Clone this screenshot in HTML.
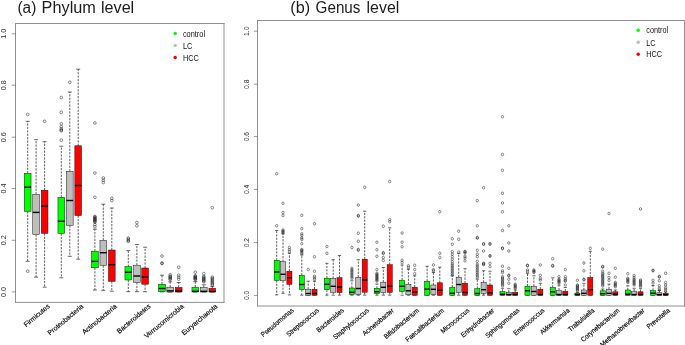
<!DOCTYPE html>
<html><head><meta charset="utf-8"><title>Boxplots</title><style>
html,body{margin:0;padding:0;background:#fff;}
body{width:685px;height:345px;overflow:hidden;font-family:"Liberation Sans",sans-serif;}
svg{display:block;font-family:"Liberation Sans",sans-serif;will-change:transform;}
.ti{font-size:15.8px;fill:#1c1c1c;}
.yl{font-size:6.8px;fill:#2a2a2a;}
.xl{fill:#000;stroke:#000;stroke-width:0.15;}
.lg{font-size:8.3px;fill:#111;}
.fr{fill:none;stroke:#909090;stroke-width:1;}
.t{stroke:#555;stroke-width:0.6;fill:none;}
.w{stroke:#2a2a2a;stroke-width:0.75;stroke-dasharray:2.2 1.2;fill:none;}
.c{stroke:#2a2a2a;stroke-width:0.7;fill:none;}
.b{stroke:#111;stroke-width:0.5;}
.m{stroke:#000;stroke-width:1.4;fill:none;}
.o{stroke:#1a1a1a;stroke-width:0.5;fill:none;}
</style></head><body>
<svg width="685" height="345" viewBox="0 0 685 345">
<rect width="685" height="345" fill="#fff"/>
<text class="ti" x="17.5" y="12.6" textLength="18.8" lengthAdjust="spacingAndGlyphs">(a)</text>
<text class="ti" x="41.6" y="12.6" textLength="54.3" lengthAdjust="spacingAndGlyphs">Phylum</text>
<text class="ti" x="101.0" y="12.6" textLength="33.2" lengthAdjust="spacingAndGlyphs">level</text>
<text class="ti" x="290.3" y="12.6" textLength="19.8" lengthAdjust="spacingAndGlyphs">(b)</text>
<text class="ti" x="315.6" y="12.6" textLength="44.8" lengthAdjust="spacingAndGlyphs">Genus</text>
<text class="ti" x="366.6" y="12.6" textLength="32.7" lengthAdjust="spacingAndGlyphs">level</text>
<path class="fr" d="M15.5 23.0V302.9M224.0 23.0V302.9M15.0 23.5H224.5M15.0 302.4H224.5"/>
<path class="t" d="M11.70 33.80H15.50"/>
<text class="yl" transform="translate(6.3,33.80) rotate(-90) scale(1.07,1)" text-anchor="middle">1.0</text>
<path class="t" d="M11.70 85.20H15.50"/>
<text class="yl" transform="translate(6.3,85.20) rotate(-90) scale(1.07,1)" text-anchor="middle">0.8</text>
<path class="t" d="M11.70 137.20H15.50"/>
<text class="yl" transform="translate(6.3,137.20) rotate(-90) scale(1.07,1)" text-anchor="middle">0.6</text>
<path class="t" d="M11.70 188.50H15.50"/>
<text class="yl" transform="translate(6.3,188.50) rotate(-90) scale(1.07,1)" text-anchor="middle">0.4</text>
<path class="t" d="M11.70 240.30H15.50"/>
<text class="yl" transform="translate(6.3,240.30) rotate(-90) scale(1.07,1)" text-anchor="middle">0.2</text>
<path class="t" d="M11.70 291.90H15.50"/>
<text class="yl" transform="translate(6.3,291.90) rotate(-90) scale(1.07,1)" text-anchor="middle">0.0</text>
<path class="w" d="M27.70 173.30V121.30"/>
<path class="c" d="M25.70 121.30H29.70"/>
<path class="w" d="M27.70 211.30V261.30"/>
<path class="c" d="M25.70 261.30H29.70"/>
<rect class="b" x="24.35" y="173.30" width="6.70" height="38.00" fill="#00ff00"/>
<path class="m" d="M24.35 187.20H31.05"/>
<ellipse class="o" cx="27.70" cy="114.50" rx="1.35" ry="1.35"/>
<ellipse class="o" cx="27.70" cy="271.20" rx="1.35" ry="1.35"/>
<path class="w" d="M36.10 194.30V139.70"/>
<path class="c" d="M34.10 139.70H38.10"/>
<path class="w" d="M36.10 234.50V277.20"/>
<path class="c" d="M34.10 277.20H38.10"/>
<rect class="b" x="32.75" y="194.30" width="6.70" height="40.20" fill="#bebebe"/>
<path class="m" d="M32.75 212.40H39.45"/>
<path class="w" d="M44.60 190.20V141.70"/>
<path class="c" d="M42.60 141.70H46.60"/>
<path class="w" d="M44.60 233.30V287.20"/>
<path class="c" d="M42.60 287.20H46.60"/>
<rect class="b" x="41.25" y="190.20" width="6.70" height="43.10" fill="#ff0000"/>
<path class="m" d="M41.25 206.30H47.95"/>
<ellipse class="o" cx="44.60" cy="121.30" rx="1.35" ry="1.35"/>
<path class="w" d="M61.30 197.30V146.20"/>
<path class="c" d="M59.30 146.20H63.30"/>
<path class="w" d="M61.30 233.50V277.80"/>
<path class="c" d="M59.30 277.80H63.30"/>
<rect class="b" x="57.95" y="197.30" width="6.70" height="36.20" fill="#00ff00"/>
<path class="m" d="M57.95 221.30H64.65"/>
<ellipse class="o" cx="61.30" cy="97.50" rx="1.35" ry="1.35"/>
<ellipse class="o" cx="61.30" cy="112.30" rx="1.35" ry="1.35"/>
<ellipse class="o" cx="61.30" cy="123.70" rx="1.35" ry="1.35"/>
<ellipse class="o" cx="61.30" cy="126.70" rx="1.35" ry="1.35"/>
<ellipse class="o" cx="61.30" cy="128.80" rx="1.35" ry="1.35"/>
<ellipse class="o" cx="61.30" cy="130.00" rx="1.35" ry="1.35"/>
<ellipse class="o" cx="61.30" cy="130.80" rx="1.35" ry="1.35"/>
<ellipse class="o" cx="61.30" cy="140.20" rx="1.35" ry="1.35"/>
<path class="w" d="M69.80 171.30V92.00"/>
<path class="c" d="M67.80 92.00H71.80"/>
<path class="w" d="M69.80 225.30V256.30"/>
<path class="c" d="M67.80 256.30H71.80"/>
<rect class="b" x="66.45" y="171.30" width="6.70" height="54.00" fill="#bebebe"/>
<path class="m" d="M66.45 200.50H73.15"/>
<ellipse class="o" cx="69.80" cy="82.30" rx="1.35" ry="1.35"/>
<path class="w" d="M78.20 145.80V69.20"/>
<path class="c" d="M76.20 69.20H80.20"/>
<path class="w" d="M78.20 215.60V259.20"/>
<path class="c" d="M76.20 259.20H80.20"/>
<rect class="b" x="74.85" y="145.80" width="6.70" height="69.80" fill="#ff0000"/>
<path class="m" d="M74.85 185.50H81.55"/>
<path class="w" d="M94.90 251.20V229.20"/>
<path class="c" d="M92.90 229.20H96.90"/>
<path class="w" d="M94.90 267.80V290.00"/>
<path class="c" d="M92.90 290.00H96.90"/>
<rect class="b" x="91.55" y="251.20" width="6.70" height="16.60" fill="#00ff00"/>
<path class="m" d="M91.55 261.40H98.25"/>
<ellipse class="o" cx="94.90" cy="123.00" rx="1.35" ry="1.35"/>
<ellipse class="o" cx="94.90" cy="173.00" rx="1.35" ry="1.35"/>
<ellipse class="o" cx="94.90" cy="197.30" rx="1.35" ry="1.35"/>
<ellipse class="o" cx="94.90" cy="216.40" rx="1.35" ry="1.35"/>
<ellipse class="o" cx="94.90" cy="217.12" rx="1.35" ry="1.35"/>
<ellipse class="o" cx="94.90" cy="217.85" rx="1.35" ry="1.35"/>
<ellipse class="o" cx="94.90" cy="218.57" rx="1.35" ry="1.35"/>
<ellipse class="o" cx="94.90" cy="219.30" rx="1.35" ry="1.35"/>
<ellipse class="o" cx="94.90" cy="220.03" rx="1.35" ry="1.35"/>
<ellipse class="o" cx="94.90" cy="220.75" rx="1.35" ry="1.35"/>
<ellipse class="o" cx="94.90" cy="221.47" rx="1.35" ry="1.35"/>
<ellipse class="o" cx="94.90" cy="222.20" rx="1.35" ry="1.35"/>
<ellipse class="o" cx="94.90" cy="224.60" rx="1.35" ry="1.35"/>
<ellipse class="o" cx="94.90" cy="226.70" rx="1.35" ry="1.35"/>
<path class="w" d="M103.30 240.30V204.20"/>
<path class="c" d="M101.30 204.20H105.30"/>
<path class="w" d="M103.30 265.40V290.30"/>
<path class="c" d="M101.30 290.30H105.30"/>
<rect class="b" x="99.95" y="240.30" width="6.70" height="25.10" fill="#bebebe"/>
<path class="m" d="M99.95 252.70H106.65"/>
<ellipse class="o" cx="103.30" cy="178.00" rx="1.35" ry="1.35"/>
<ellipse class="o" cx="103.30" cy="180.30" rx="1.35" ry="1.35"/>
<ellipse class="o" cx="103.30" cy="182.50" rx="1.35" ry="1.35"/>
<path class="w" d="M111.80 250.00V208.00"/>
<path class="c" d="M109.80 208.00H113.80"/>
<path class="w" d="M111.80 281.30V291.20"/>
<path class="c" d="M109.80 291.20H113.80"/>
<rect class="b" x="108.45" y="250.00" width="6.70" height="31.30" fill="#ff0000"/>
<path class="m" d="M108.45 264.70H115.15"/>
<ellipse class="o" cx="111.80" cy="198.30" rx="1.35" ry="1.35"/>
<ellipse class="o" cx="111.80" cy="200.50" rx="1.35" ry="1.35"/>
<path class="w" d="M128.30 266.70V250.60"/>
<path class="c" d="M126.30 250.60H130.30"/>
<path class="w" d="M128.30 280.00V291.70"/>
<path class="c" d="M126.30 291.70H130.30"/>
<rect class="b" x="124.95" y="266.70" width="6.70" height="13.30" fill="#00ff00"/>
<path class="m" d="M124.95 272.30H131.65"/>
<ellipse class="o" cx="128.30" cy="238.00" rx="1.35" ry="1.35"/>
<ellipse class="o" cx="128.30" cy="239.30" rx="1.35" ry="1.35"/>
<ellipse class="o" cx="128.30" cy="240.50" rx="1.35" ry="1.35"/>
<ellipse class="o" cx="128.30" cy="241.30" rx="1.35" ry="1.35"/>
<path class="w" d="M136.90 265.20V244.50"/>
<path class="c" d="M134.90 244.50H138.90"/>
<path class="w" d="M136.90 282.50V291.70"/>
<path class="c" d="M134.90 291.70H138.90"/>
<rect class="b" x="133.55" y="265.20" width="6.70" height="17.30" fill="#bebebe"/>
<path class="m" d="M133.55 276.00H140.25"/>
<ellipse class="o" cx="136.90" cy="222.50" rx="1.35" ry="1.35"/>
<ellipse class="o" cx="136.90" cy="225.80" rx="1.35" ry="1.35"/>
<path class="w" d="M145.10 268.00V247.20"/>
<path class="c" d="M143.10 247.20H147.10"/>
<path class="w" d="M145.10 284.20V291.70"/>
<path class="c" d="M143.10 291.70H147.10"/>
<rect class="b" x="141.75" y="268.00" width="6.70" height="16.20" fill="#ff0000"/>
<path class="m" d="M141.75 277.00H148.45"/>
<path class="w" d="M162.00 284.30V275.20"/>
<path class="c" d="M160.00 275.20H164.00"/>
<path class="c" d="M160.00 291.90H164.00"/>
<rect class="b" x="158.65" y="284.30" width="6.70" height="7.40" fill="#00ff00"/>
<path class="m" d="M158.65 288.50H165.35"/>
<ellipse class="o" cx="162.00" cy="256.00" rx="1.35" ry="1.35"/>
<ellipse class="o" cx="162.00" cy="263.00" rx="1.35" ry="1.35"/>
<ellipse class="o" cx="162.00" cy="263.60" rx="1.35" ry="1.35"/>
<path class="w" d="M170.20 287.20V281.80"/>
<path class="c" d="M168.20 281.80H172.20"/>
<path class="c" d="M168.20 292.00H172.20"/>
<rect class="b" x="166.85" y="287.20" width="6.70" height="4.80" fill="#bebebe"/>
<path class="m" d="M166.85 290.90H173.55"/>
<ellipse class="o" cx="170.20" cy="274.80" rx="1.35" ry="1.35"/>
<ellipse class="o" cx="170.20" cy="276.20" rx="1.35" ry="1.35"/>
<ellipse class="o" cx="170.20" cy="277.05" rx="1.35" ry="1.35"/>
<ellipse class="o" cx="170.20" cy="277.90" rx="1.35" ry="1.35"/>
<ellipse class="o" cx="170.20" cy="278.75" rx="1.35" ry="1.35"/>
<ellipse class="o" cx="170.20" cy="279.60" rx="1.35" ry="1.35"/>
<path class="w" d="M178.70 287.50V282.50"/>
<path class="c" d="M176.70 282.50H180.70"/>
<path class="c" d="M176.70 292.00H180.70"/>
<rect class="b" x="175.35" y="287.50" width="6.70" height="4.50" fill="#ff0000"/>
<path class="m" d="M175.35 291.00H182.05"/>
<ellipse class="o" cx="178.70" cy="267.20" rx="1.35" ry="1.35"/>
<ellipse class="o" cx="178.70" cy="275.20" rx="1.35" ry="1.35"/>
<ellipse class="o" cx="178.70" cy="277.20" rx="1.35" ry="1.35"/>
<ellipse class="o" cx="178.70" cy="279.20" rx="1.35" ry="1.35"/>
<path class="w" d="M195.30 287.20V281.60"/>
<path class="c" d="M193.30 281.60H197.30"/>
<path class="c" d="M193.30 292.00H197.30"/>
<rect class="b" x="191.95" y="287.20" width="6.70" height="4.80" fill="#00ff00"/>
<path class="m" d="M191.95 291.30H198.65"/>
<ellipse class="o" cx="195.30" cy="272.20" rx="1.35" ry="1.35"/>
<ellipse class="o" cx="195.30" cy="275.80" rx="1.35" ry="1.35"/>
<ellipse class="o" cx="195.30" cy="276.43" rx="1.35" ry="1.35"/>
<ellipse class="o" cx="195.30" cy="277.07" rx="1.35" ry="1.35"/>
<ellipse class="o" cx="195.30" cy="277.70" rx="1.35" ry="1.35"/>
<ellipse class="o" cx="195.30" cy="278.33" rx="1.35" ry="1.35"/>
<ellipse class="o" cx="195.30" cy="278.97" rx="1.35" ry="1.35"/>
<ellipse class="o" cx="195.30" cy="279.60" rx="1.35" ry="1.35"/>
<path class="w" d="M203.80 287.50V284.80"/>
<path class="c" d="M201.80 284.80H205.80"/>
<path class="c" d="M201.80 292.00H205.80"/>
<rect class="b" x="200.45" y="287.50" width="6.70" height="4.50" fill="#bebebe"/>
<path class="m" d="M200.45 291.30H207.15"/>
<ellipse class="o" cx="203.80" cy="273.60" rx="1.35" ry="1.35"/>
<ellipse class="o" cx="203.80" cy="276.40" rx="1.35" ry="1.35"/>
<ellipse class="o" cx="203.80" cy="277.30" rx="1.35" ry="1.35"/>
<ellipse class="o" cx="203.80" cy="278.20" rx="1.35" ry="1.35"/>
<ellipse class="o" cx="203.80" cy="279.10" rx="1.35" ry="1.35"/>
<ellipse class="o" cx="203.80" cy="280.00" rx="1.35" ry="1.35"/>
<ellipse class="o" cx="203.80" cy="280.90" rx="1.35" ry="1.35"/>
<ellipse class="o" cx="203.80" cy="281.80" rx="1.35" ry="1.35"/>
<path class="w" d="M212.30 288.30V286.60"/>
<path class="c" d="M210.30 286.60H214.30"/>
<path class="c" d="M210.30 292.00H214.30"/>
<rect class="b" x="208.95" y="288.30" width="6.70" height="3.70" fill="#ff0000"/>
<path class="m" d="M208.95 291.50H215.65"/>
<ellipse class="o" cx="212.30" cy="207.70" rx="1.35" ry="1.35"/>
<ellipse class="o" cx="212.30" cy="277.20" rx="1.35" ry="1.35"/>
<ellipse class="o" cx="212.30" cy="278.31" rx="1.35" ry="1.35"/>
<ellipse class="o" cx="212.30" cy="279.43" rx="1.35" ry="1.35"/>
<ellipse class="o" cx="212.30" cy="280.54" rx="1.35" ry="1.35"/>
<ellipse class="o" cx="212.30" cy="281.66" rx="1.35" ry="1.35"/>
<ellipse class="o" cx="212.30" cy="282.77" rx="1.35" ry="1.35"/>
<ellipse class="o" cx="212.30" cy="283.89" rx="1.35" ry="1.35"/>
<ellipse class="o" cx="212.30" cy="285.00" rx="1.35" ry="1.35"/>
<text class="xl" font-size="7.0" transform="translate(50.30,307.10) rotate(-40) scale(0.975,1)" text-anchor="end">Firmicutes</text>
<text class="xl" font-size="7.0" transform="translate(84.00,307.10) rotate(-40) scale(0.975,1)" text-anchor="end">Proteobacteria</text>
<text class="xl" font-size="7.0" transform="translate(117.50,307.10) rotate(-40) scale(0.975,1)" text-anchor="end">Actinobacteria</text>
<text class="xl" font-size="7.0" transform="translate(151.10,307.10) rotate(-40) scale(0.975,1)" text-anchor="end">Bacteroidetes</text>
<text class="xl" font-size="7.0" transform="translate(184.40,307.10) rotate(-40) scale(0.975,1)" text-anchor="end">Verrucomicrobia</text>
<text class="xl" font-size="7.0" transform="translate(218.00,307.10) rotate(-40) scale(0.975,1)" text-anchor="end">Euryarchaeota</text>
<circle cx="175.2" cy="33.5" r="1.75" fill="#00ff00"/>
<text class="lg" transform="translate(182.9,36.6) scale(0.89,1)">control</text>
<circle cx="175.2" cy="45.5" r="1.75" fill="#bebebe"/>
<text class="lg" transform="translate(182.9,48.7) scale(0.89,1)">LC</text>
<circle cx="175.2" cy="57.6" r="1.75" fill="#ff0000"/>
<text class="lg" transform="translate(182.9,60.5) scale(0.89,1)">HCC</text>
<path class="fr" d="M257.5 20.0V306.5M684.5 20.0V306.5M257.0 20.5H685.0M257.0 306.0H685.0"/>
<path class="t" d="M253.70 31.20H257.50"/>
<text class="yl" transform="translate(248.9,31.20) rotate(-90) scale(1,0.93)" text-anchor="middle">1.0</text>
<path class="t" d="M253.70 84.20H257.50"/>
<text class="yl" transform="translate(248.9,84.20) rotate(-90) scale(1,0.93)" text-anchor="middle">0.8</text>
<path class="t" d="M253.70 136.60H257.50"/>
<text class="yl" transform="translate(248.9,136.60) rotate(-90) scale(1,0.93)" text-anchor="middle">0.6</text>
<path class="t" d="M253.70 189.40H257.50"/>
<text class="yl" transform="translate(248.9,189.40) rotate(-90) scale(1,0.93)" text-anchor="middle">0.4</text>
<path class="t" d="M253.70 242.60H257.50"/>
<text class="yl" transform="translate(248.9,242.60) rotate(-90) scale(1,0.93)" text-anchor="middle">0.2</text>
<path class="t" d="M253.70 295.40H257.50"/>
<text class="yl" transform="translate(248.9,295.40) rotate(-90) scale(1,0.93)" text-anchor="middle">0.0</text>
<path class="w" d="M276.70 260.30V230.50"/>
<path class="c" d="M275.10 230.50H278.30"/>
<path class="w" d="M276.70 280.30V294.90"/>
<path class="c" d="M275.10 294.90H278.30"/>
<rect class="b" x="274.15" y="260.30" width="5.10" height="20.00" fill="#00ff00"/>
<path class="m" d="M274.15 272.00H279.25"/>
<ellipse class="o" cx="276.70" cy="173.80" rx="1.14" ry="1.32"/>
<ellipse class="o" cx="276.70" cy="225.80" rx="1.14" ry="1.32"/>
<path class="w" d="M283.00 261.70V233.80"/>
<path class="c" d="M281.40 233.80H284.60"/>
<path class="w" d="M283.00 280.80V293.30"/>
<path class="c" d="M281.40 293.30H284.60"/>
<rect class="b" x="280.45" y="261.70" width="5.10" height="19.10" fill="#bebebe"/>
<path class="m" d="M280.45 274.30H285.55"/>
<ellipse class="o" cx="283.00" cy="203.30" rx="1.14" ry="1.32"/>
<ellipse class="o" cx="283.00" cy="212.50" rx="1.14" ry="1.32"/>
<ellipse class="o" cx="283.00" cy="215.50" rx="1.14" ry="1.32"/>
<ellipse class="o" cx="283.00" cy="230.00" rx="1.14" ry="1.32"/>
<ellipse class="o" cx="283.00" cy="231.00" rx="1.14" ry="1.32"/>
<ellipse class="o" cx="283.00" cy="232.00" rx="1.14" ry="1.32"/>
<ellipse class="o" cx="283.00" cy="233.00" rx="1.14" ry="1.32"/>
<path class="w" d="M289.40 271.20V253.30"/>
<path class="c" d="M287.80 253.30H291.00"/>
<path class="w" d="M289.40 284.30V294.90"/>
<path class="c" d="M287.80 294.90H291.00"/>
<rect class="b" x="286.85" y="271.20" width="5.10" height="13.10" fill="#ff0000"/>
<path class="m" d="M286.85 277.80H291.95"/>
<ellipse class="o" cx="289.40" cy="247.50" rx="1.14" ry="1.32"/>
<ellipse class="o" cx="289.40" cy="249.70" rx="1.14" ry="1.32"/>
<ellipse class="o" cx="289.40" cy="251.70" rx="1.14" ry="1.32"/>
<path class="w" d="M301.80 275.30V255.00"/>
<path class="c" d="M300.20 255.00H303.40"/>
<path class="w" d="M301.80 289.50V295.20"/>
<path class="c" d="M300.20 295.20H303.40"/>
<rect class="b" x="299.25" y="275.30" width="5.10" height="14.20" fill="#00ff00"/>
<path class="m" d="M299.25 284.50H304.35"/>
<ellipse class="o" cx="301.80" cy="215.30" rx="1.14" ry="1.32"/>
<ellipse class="o" cx="301.80" cy="228.70" rx="1.14" ry="1.32"/>
<ellipse class="o" cx="301.80" cy="233.80" rx="1.14" ry="1.32"/>
<ellipse class="o" cx="301.80" cy="235.50" rx="1.14" ry="1.32"/>
<ellipse class="o" cx="301.80" cy="238.00" rx="1.14" ry="1.32"/>
<ellipse class="o" cx="301.80" cy="239.50" rx="1.14" ry="1.32"/>
<ellipse class="o" cx="301.80" cy="243.70" rx="1.14" ry="1.32"/>
<ellipse class="o" cx="301.80" cy="249.50" rx="1.14" ry="1.32"/>
<ellipse class="o" cx="301.80" cy="250.30" rx="1.14" ry="1.32"/>
<ellipse class="o" cx="301.80" cy="251.00" rx="1.14" ry="1.32"/>
<ellipse class="o" cx="301.80" cy="252.50" rx="1.14" ry="1.32"/>
<ellipse class="o" cx="301.80" cy="253.70" rx="1.14" ry="1.32"/>
<path class="w" d="M308.20 289.20V281.20"/>
<path class="c" d="M306.60 281.20H309.80"/>
<path class="c" d="M306.60 295.20H309.80"/>
<rect class="b" x="305.65" y="289.20" width="5.10" height="6.00" fill="#bebebe"/>
<path class="m" d="M305.65 293.50H310.75"/>
<ellipse class="o" cx="308.20" cy="269.50" rx="1.14" ry="1.32"/>
<path class="w" d="M314.50 289.20V281.30"/>
<path class="c" d="M312.90 281.30H316.10"/>
<path class="c" d="M312.90 295.20H316.10"/>
<rect class="b" x="311.95" y="289.20" width="5.10" height="6.00" fill="#ff0000"/>
<path class="m" d="M311.95 293.50H317.05"/>
<ellipse class="o" cx="314.50" cy="223.70" rx="1.14" ry="1.32"/>
<ellipse class="o" cx="314.50" cy="256.70" rx="1.14" ry="1.32"/>
<ellipse class="o" cx="314.50" cy="271.30" rx="1.14" ry="1.32"/>
<ellipse class="o" cx="314.50" cy="276.20" rx="1.14" ry="1.32"/>
<ellipse class="o" cx="314.50" cy="277.80" rx="1.14" ry="1.32"/>
<ellipse class="o" cx="314.50" cy="279.50" rx="1.14" ry="1.32"/>
<path class="w" d="M326.90 278.20V263.30"/>
<path class="c" d="M325.30 263.30H328.50"/>
<path class="w" d="M326.90 289.70V295.20"/>
<path class="c" d="M325.30 295.20H328.50"/>
<rect class="b" x="324.35" y="278.20" width="5.10" height="11.50" fill="#00ff00"/>
<path class="m" d="M324.35 284.30H329.45"/>
<ellipse class="o" cx="326.90" cy="246.50" rx="1.14" ry="1.32"/>
<ellipse class="o" cx="326.90" cy="253.30" rx="1.14" ry="1.32"/>
<path class="w" d="M333.20 278.50V259.70"/>
<path class="c" d="M331.60 259.70H334.80"/>
<path class="w" d="M333.20 292.30V295.20"/>
<path class="c" d="M331.60 295.20H334.80"/>
<rect class="b" x="330.65" y="278.50" width="5.10" height="13.80" fill="#bebebe"/>
<path class="m" d="M330.65 286.30H335.75"/>
<path class="w" d="M339.50 277.70V255.50"/>
<path class="c" d="M337.90 255.50H341.10"/>
<path class="w" d="M339.50 292.50V295.20"/>
<path class="c" d="M337.90 295.20H341.10"/>
<rect class="b" x="336.95" y="277.70" width="5.10" height="14.80" fill="#ff0000"/>
<path class="m" d="M336.95 287.00H342.05"/>
<path class="w" d="M351.90 288.00V280.80"/>
<path class="c" d="M350.30 280.80H353.50"/>
<path class="w" d="M351.90 294.50V295.20"/>
<path class="c" d="M350.30 295.20H353.50"/>
<rect class="b" x="349.35" y="288.00" width="5.10" height="6.50" fill="#00ff00"/>
<path class="m" d="M349.35 292.30H354.45"/>
<ellipse class="o" cx="351.90" cy="247.50" rx="1.14" ry="1.32"/>
<ellipse class="o" cx="351.90" cy="268.30" rx="1.14" ry="1.32"/>
<ellipse class="o" cx="351.90" cy="269.73" rx="1.14" ry="1.32"/>
<ellipse class="o" cx="351.90" cy="271.16" rx="1.14" ry="1.32"/>
<ellipse class="o" cx="351.90" cy="272.59" rx="1.14" ry="1.32"/>
<ellipse class="o" cx="351.90" cy="274.01" rx="1.14" ry="1.32"/>
<ellipse class="o" cx="351.90" cy="275.44" rx="1.14" ry="1.32"/>
<ellipse class="o" cx="351.90" cy="276.87" rx="1.14" ry="1.32"/>
<ellipse class="o" cx="351.90" cy="278.30" rx="1.14" ry="1.32"/>
<path class="w" d="M358.30 277.30V259.70"/>
<path class="c" d="M356.70 259.70H359.90"/>
<path class="w" d="M358.30 294.30V295.20"/>
<path class="c" d="M356.70 295.20H359.90"/>
<rect class="b" x="355.75" y="277.30" width="5.10" height="17.00" fill="#bebebe"/>
<path class="m" d="M355.75 288.50H360.85"/>
<ellipse class="o" cx="358.30" cy="205.00" rx="1.14" ry="1.32"/>
<ellipse class="o" cx="358.30" cy="215.50" rx="1.14" ry="1.32"/>
<ellipse class="o" cx="358.30" cy="216.10" rx="1.14" ry="1.32"/>
<ellipse class="o" cx="358.30" cy="233.30" rx="1.14" ry="1.32"/>
<ellipse class="o" cx="358.30" cy="241.30" rx="1.14" ry="1.32"/>
<ellipse class="o" cx="358.30" cy="249.50" rx="1.14" ry="1.32"/>
<ellipse class="o" cx="358.30" cy="250.20" rx="1.14" ry="1.32"/>
<path class="w" d="M364.70 259.20V211.20"/>
<path class="c" d="M363.10 211.20H366.30"/>
<path class="w" d="M364.70 292.20V295.20"/>
<path class="c" d="M363.10 295.20H366.30"/>
<rect class="b" x="362.15" y="259.20" width="5.10" height="33.00" fill="#ff0000"/>
<path class="m" d="M362.15 280.00H367.25"/>
<ellipse class="o" cx="364.70" cy="187.30" rx="1.14" ry="1.32"/>
<path class="w" d="M376.90 288.30V284.00"/>
<path class="c" d="M375.30 284.00H378.50"/>
<path class="w" d="M376.90 293.70V295.20"/>
<path class="c" d="M375.30 295.20H378.50"/>
<rect class="b" x="374.35" y="288.30" width="5.10" height="5.40" fill="#00ff00"/>
<path class="m" d="M374.35 291.70H379.45"/>
<ellipse class="o" cx="376.90" cy="242.20" rx="1.14" ry="1.32"/>
<ellipse class="o" cx="376.90" cy="249.70" rx="1.14" ry="1.32"/>
<ellipse class="o" cx="376.90" cy="256.30" rx="1.14" ry="1.32"/>
<ellipse class="o" cx="376.90" cy="269.50" rx="1.14" ry="1.32"/>
<ellipse class="o" cx="376.90" cy="273.30" rx="1.14" ry="1.32"/>
<ellipse class="o" cx="376.90" cy="274.26" rx="1.14" ry="1.32"/>
<ellipse class="o" cx="376.90" cy="275.23" rx="1.14" ry="1.32"/>
<ellipse class="o" cx="376.90" cy="276.19" rx="1.14" ry="1.32"/>
<ellipse class="o" cx="376.90" cy="277.15" rx="1.14" ry="1.32"/>
<ellipse class="o" cx="376.90" cy="278.11" rx="1.14" ry="1.32"/>
<ellipse class="o" cx="376.90" cy="279.07" rx="1.14" ry="1.32"/>
<ellipse class="o" cx="376.90" cy="280.04" rx="1.14" ry="1.32"/>
<ellipse class="o" cx="376.90" cy="281.00" rx="1.14" ry="1.32"/>
<path class="w" d="M383.30 282.20V267.50"/>
<path class="c" d="M381.70 267.50H384.90"/>
<path class="w" d="M383.30 292.50V295.20"/>
<path class="c" d="M381.70 295.20H384.90"/>
<rect class="b" x="380.75" y="282.20" width="5.10" height="10.30" fill="#bebebe"/>
<path class="m" d="M380.75 287.30H385.85"/>
<ellipse class="o" cx="383.30" cy="226.20" rx="1.14" ry="1.32"/>
<ellipse class="o" cx="383.30" cy="252.80" rx="1.14" ry="1.32"/>
<ellipse class="o" cx="383.30" cy="253.40" rx="1.14" ry="1.32"/>
<ellipse class="o" cx="383.30" cy="257.50" rx="1.14" ry="1.32"/>
<ellipse class="o" cx="383.30" cy="260.50" rx="1.14" ry="1.32"/>
<path class="w" d="M389.70 264.70V227.80"/>
<path class="c" d="M388.10 227.80H391.30"/>
<path class="w" d="M389.70 292.30V295.20"/>
<path class="c" d="M388.10 295.20H391.30"/>
<rect class="b" x="387.15" y="264.70" width="5.10" height="27.60" fill="#ff0000"/>
<path class="m" d="M387.15 286.30H392.25"/>
<ellipse class="o" cx="389.70" cy="181.50" rx="1.14" ry="1.32"/>
<ellipse class="o" cx="389.70" cy="219.70" rx="1.14" ry="1.32"/>
<ellipse class="o" cx="389.70" cy="221.70" rx="1.14" ry="1.32"/>
<path class="w" d="M402.10 280.20V265.00"/>
<path class="c" d="M400.50 265.00H403.70"/>
<path class="w" d="M402.10 291.50V295.20"/>
<path class="c" d="M400.50 295.20H403.70"/>
<rect class="b" x="399.55" y="280.20" width="5.10" height="11.30" fill="#00ff00"/>
<path class="m" d="M399.55 286.30H404.65"/>
<ellipse class="o" cx="402.10" cy="233.00" rx="1.14" ry="1.32"/>
<ellipse class="o" cx="402.10" cy="242.20" rx="1.14" ry="1.32"/>
<ellipse class="o" cx="402.10" cy="246.70" rx="1.14" ry="1.32"/>
<ellipse class="o" cx="402.10" cy="260.30" rx="1.14" ry="1.32"/>
<ellipse class="o" cx="402.10" cy="262.50" rx="1.14" ry="1.32"/>
<path class="w" d="M408.40 284.30V269.20"/>
<path class="c" d="M406.80 269.20H410.00"/>
<path class="w" d="M408.40 294.80V295.20"/>
<path class="c" d="M406.80 295.20H410.00"/>
<rect class="b" x="405.85" y="284.30" width="5.10" height="10.50" fill="#bebebe"/>
<path class="m" d="M405.85 290.80H410.95"/>
<ellipse class="o" cx="408.40" cy="265.80" rx="1.14" ry="1.32"/>
<ellipse class="o" cx="408.40" cy="267.50" rx="1.14" ry="1.32"/>
<path class="w" d="M414.70 287.20V275.80"/>
<path class="c" d="M413.10 275.80H416.30"/>
<path class="c" d="M413.10 295.20H416.30"/>
<rect class="b" x="412.15" y="287.20" width="5.10" height="8.00" fill="#ff0000"/>
<path class="m" d="M412.15 292.20H417.25"/>
<ellipse class="o" cx="414.70" cy="265.30" rx="1.14" ry="1.32"/>
<ellipse class="o" cx="414.70" cy="269.50" rx="1.14" ry="1.32"/>
<ellipse class="o" cx="414.70" cy="273.70" rx="1.14" ry="1.32"/>
<path class="w" d="M427.10 281.20V266.30"/>
<path class="c" d="M425.50 266.30H428.70"/>
<path class="c" d="M425.50 295.20H428.70"/>
<rect class="b" x="424.55" y="281.20" width="5.10" height="14.00" fill="#00ff00"/>
<path class="m" d="M424.55 289.20H429.65"/>
<path class="w" d="M433.40 285.00V272.50"/>
<path class="c" d="M431.80 272.50H435.00"/>
<path class="w" d="M433.40 294.70V295.20"/>
<path class="c" d="M431.80 295.20H435.00"/>
<rect class="b" x="430.85" y="285.00" width="5.10" height="9.70" fill="#bebebe"/>
<path class="m" d="M430.85 289.30H435.95"/>
<ellipse class="o" cx="433.40" cy="265.00" rx="1.14" ry="1.32"/>
<ellipse class="o" cx="433.40" cy="269.70" rx="1.14" ry="1.32"/>
<ellipse class="o" cx="433.40" cy="270.80" rx="1.14" ry="1.32"/>
<path class="w" d="M439.80 282.80V267.20"/>
<path class="c" d="M438.20 267.20H441.40"/>
<path class="c" d="M438.20 295.20H441.40"/>
<rect class="b" x="437.25" y="282.80" width="5.10" height="12.40" fill="#ff0000"/>
<path class="m" d="M437.25 290.20H442.35"/>
<ellipse class="o" cx="439.80" cy="211.70" rx="1.14" ry="1.32"/>
<ellipse class="o" cx="439.80" cy="253.30" rx="1.14" ry="1.32"/>
<ellipse class="o" cx="439.80" cy="257.50" rx="1.14" ry="1.32"/>
<path class="w" d="M452.30 287.20V275.80"/>
<path class="c" d="M450.70 275.80H453.90"/>
<path class="c" d="M450.70 295.20H453.90"/>
<rect class="b" x="449.75" y="287.20" width="5.10" height="8.00" fill="#00ff00"/>
<path class="m" d="M449.75 293.30H454.85"/>
<ellipse class="o" cx="452.30" cy="238.80" rx="1.14" ry="1.32"/>
<ellipse class="o" cx="452.30" cy="244.20" rx="1.14" ry="1.32"/>
<ellipse class="o" cx="452.30" cy="251.70" rx="1.14" ry="1.32"/>
<ellipse class="o" cx="452.30" cy="254.20" rx="1.14" ry="1.32"/>
<ellipse class="o" cx="452.30" cy="256.70" rx="1.14" ry="1.32"/>
<ellipse class="o" cx="452.30" cy="259.20" rx="1.14" ry="1.32"/>
<ellipse class="o" cx="452.30" cy="261.70" rx="1.14" ry="1.32"/>
<ellipse class="o" cx="452.30" cy="264.00" rx="1.14" ry="1.32"/>
<ellipse class="o" cx="452.30" cy="265.57" rx="1.14" ry="1.32"/>
<ellipse class="o" cx="452.30" cy="267.14" rx="1.14" ry="1.32"/>
<ellipse class="o" cx="452.30" cy="268.71" rx="1.14" ry="1.32"/>
<ellipse class="o" cx="452.30" cy="270.29" rx="1.14" ry="1.32"/>
<ellipse class="o" cx="452.30" cy="271.86" rx="1.14" ry="1.32"/>
<ellipse class="o" cx="452.30" cy="273.43" rx="1.14" ry="1.32"/>
<ellipse class="o" cx="452.30" cy="275.00" rx="1.14" ry="1.32"/>
<path class="w" d="M458.70 277.20V253.30"/>
<path class="c" d="M457.10 253.30H460.30"/>
<path class="w" d="M458.70 292.30V295.20"/>
<path class="c" d="M457.10 295.20H460.30"/>
<rect class="b" x="456.15" y="277.20" width="5.10" height="15.10" fill="#bebebe"/>
<path class="m" d="M456.15 284.50H461.25"/>
<ellipse class="o" cx="458.70" cy="231.20" rx="1.14" ry="1.32"/>
<ellipse class="o" cx="458.70" cy="239.30" rx="1.14" ry="1.32"/>
<ellipse class="o" cx="458.70" cy="252.20" rx="1.14" ry="1.32"/>
<path class="w" d="M465.00 283.20V268.70"/>
<path class="c" d="M463.40 268.70H466.60"/>
<path class="c" d="M463.40 295.20H466.60"/>
<rect class="b" x="462.45" y="283.20" width="5.10" height="12.00" fill="#ff0000"/>
<path class="m" d="M462.45 292.50H467.55"/>
<ellipse class="o" cx="465.00" cy="251.40" rx="1.14" ry="1.32"/>
<ellipse class="o" cx="465.00" cy="252.00" rx="1.14" ry="1.32"/>
<ellipse class="o" cx="465.00" cy="253.00" rx="1.14" ry="1.32"/>
<ellipse class="o" cx="465.00" cy="256.30" rx="1.14" ry="1.32"/>
<ellipse class="o" cx="465.00" cy="258.00" rx="1.14" ry="1.32"/>
<ellipse class="o" cx="465.00" cy="260.80" rx="1.14" ry="1.32"/>
<path class="w" d="M477.30 288.70V279.20"/>
<path class="c" d="M475.70 279.20H478.90"/>
<path class="c" d="M475.70 295.20H478.90"/>
<rect class="b" x="474.75" y="288.70" width="5.10" height="6.50" fill="#00ff00"/>
<path class="m" d="M474.75 293.50H479.85"/>
<ellipse class="o" cx="477.30" cy="200.50" rx="1.14" ry="1.32"/>
<ellipse class="o" cx="477.30" cy="225.80" rx="1.14" ry="1.32"/>
<ellipse class="o" cx="477.30" cy="237.50" rx="1.14" ry="1.32"/>
<ellipse class="o" cx="477.30" cy="238.10" rx="1.14" ry="1.32"/>
<ellipse class="o" cx="477.30" cy="250.30" rx="1.14" ry="1.32"/>
<ellipse class="o" cx="477.30" cy="254.20" rx="1.14" ry="1.32"/>
<ellipse class="o" cx="477.30" cy="256.70" rx="1.14" ry="1.32"/>
<ellipse class="o" cx="477.30" cy="261.30" rx="1.14" ry="1.32"/>
<ellipse class="o" cx="477.30" cy="264.20" rx="1.14" ry="1.32"/>
<ellipse class="o" cx="477.30" cy="265.86" rx="1.14" ry="1.32"/>
<ellipse class="o" cx="477.30" cy="267.52" rx="1.14" ry="1.32"/>
<ellipse class="o" cx="477.30" cy="269.19" rx="1.14" ry="1.32"/>
<ellipse class="o" cx="477.30" cy="270.85" rx="1.14" ry="1.32"/>
<ellipse class="o" cx="477.30" cy="272.51" rx="1.14" ry="1.32"/>
<ellipse class="o" cx="477.30" cy="274.18" rx="1.14" ry="1.32"/>
<ellipse class="o" cx="477.30" cy="275.84" rx="1.14" ry="1.32"/>
<ellipse class="o" cx="477.30" cy="277.50" rx="1.14" ry="1.32"/>
<path class="w" d="M483.60 282.50V270.80"/>
<path class="c" d="M482.00 270.80H485.20"/>
<path class="w" d="M483.60 293.30V295.20"/>
<path class="c" d="M482.00 295.20H485.20"/>
<rect class="b" x="481.05" y="282.50" width="5.10" height="10.80" fill="#bebebe"/>
<path class="m" d="M481.05 289.70H486.15"/>
<ellipse class="o" cx="483.60" cy="187.70" rx="1.14" ry="1.32"/>
<ellipse class="o" cx="483.60" cy="243.70" rx="1.14" ry="1.32"/>
<ellipse class="o" cx="483.60" cy="244.30" rx="1.14" ry="1.32"/>
<ellipse class="o" cx="483.60" cy="251.00" rx="1.14" ry="1.32"/>
<ellipse class="o" cx="483.60" cy="263.30" rx="1.14" ry="1.32"/>
<ellipse class="o" cx="483.60" cy="263.90" rx="1.14" ry="1.32"/>
<ellipse class="o" cx="483.60" cy="264.70" rx="1.14" ry="1.32"/>
<path class="w" d="M490.00 285.00V271.20"/>
<path class="c" d="M488.40 271.20H491.60"/>
<path class="c" d="M488.40 295.20H491.60"/>
<rect class="b" x="487.45" y="285.00" width="5.10" height="10.20" fill="#ff0000"/>
<path class="m" d="M487.45 292.80H492.55"/>
<ellipse class="o" cx="490.00" cy="243.60" rx="1.14" ry="1.32"/>
<ellipse class="o" cx="490.00" cy="244.20" rx="1.14" ry="1.32"/>
<ellipse class="o" cx="490.00" cy="255.60" rx="1.14" ry="1.32"/>
<ellipse class="o" cx="490.00" cy="256.20" rx="1.14" ry="1.32"/>
<ellipse class="o" cx="490.00" cy="263.30" rx="1.14" ry="1.32"/>
<ellipse class="o" cx="490.00" cy="266.70" rx="1.14" ry="1.32"/>
<path class="w" d="M502.50 291.50V288.30"/>
<path class="c" d="M500.90 288.30H504.10"/>
<path class="c" d="M500.90 295.20H504.10"/>
<rect class="b" x="499.95" y="291.50" width="5.10" height="3.70" fill="#00ff00"/>
<path class="m" d="M499.95 294.30H505.05"/>
<ellipse class="o" cx="502.50" cy="116.70" rx="1.14" ry="1.32"/>
<ellipse class="o" cx="502.50" cy="154.50" rx="1.14" ry="1.32"/>
<ellipse class="o" cx="502.50" cy="170.30" rx="1.14" ry="1.32"/>
<ellipse class="o" cx="502.50" cy="193.30" rx="1.14" ry="1.32"/>
<ellipse class="o" cx="502.50" cy="203.00" rx="1.14" ry="1.32"/>
<ellipse class="o" cx="502.50" cy="211.70" rx="1.14" ry="1.32"/>
<ellipse class="o" cx="502.50" cy="230.50" rx="1.14" ry="1.32"/>
<ellipse class="o" cx="502.50" cy="248.00" rx="1.14" ry="1.32"/>
<ellipse class="o" cx="502.50" cy="248.60" rx="1.14" ry="1.32"/>
<ellipse class="o" cx="502.50" cy="266.20" rx="1.14" ry="1.32"/>
<ellipse class="o" cx="502.50" cy="270.80" rx="1.14" ry="1.32"/>
<ellipse class="o" cx="502.50" cy="272.50" rx="1.14" ry="1.32"/>
<ellipse class="o" cx="502.50" cy="276.70" rx="1.14" ry="1.32"/>
<ellipse class="o" cx="502.50" cy="278.00" rx="1.14" ry="1.32"/>
<ellipse class="o" cx="502.50" cy="279.30" rx="1.14" ry="1.32"/>
<ellipse class="o" cx="502.50" cy="280.60" rx="1.14" ry="1.32"/>
<ellipse class="o" cx="502.50" cy="281.90" rx="1.14" ry="1.32"/>
<ellipse class="o" cx="502.50" cy="283.20" rx="1.14" ry="1.32"/>
<ellipse class="o" cx="502.50" cy="284.50" rx="1.14" ry="1.32"/>
<ellipse class="o" cx="502.50" cy="285.80" rx="1.14" ry="1.32"/>
<path class="w" d="M508.80 292.20V288.70"/>
<path class="c" d="M507.20 288.70H510.40"/>
<path class="c" d="M507.20 295.20H510.40"/>
<rect class="b" x="506.25" y="292.20" width="5.10" height="3.00" fill="#bebebe"/>
<path class="m" d="M506.25 294.50H511.35"/>
<ellipse class="o" cx="508.80" cy="225.80" rx="1.14" ry="1.32"/>
<ellipse class="o" cx="508.80" cy="243.00" rx="1.14" ry="1.32"/>
<ellipse class="o" cx="508.80" cy="251.00" rx="1.14" ry="1.32"/>
<ellipse class="o" cx="508.80" cy="268.30" rx="1.14" ry="1.32"/>
<ellipse class="o" cx="508.80" cy="275.20" rx="1.14" ry="1.32"/>
<ellipse class="o" cx="508.80" cy="275.80" rx="1.14" ry="1.32"/>
<ellipse class="o" cx="508.80" cy="279.20" rx="1.14" ry="1.32"/>
<ellipse class="o" cx="508.80" cy="283.30" rx="1.14" ry="1.32"/>
<path class="w" d="M515.20 292.20V290.00"/>
<path class="c" d="M513.60 290.00H516.80"/>
<path class="c" d="M513.60 295.20H516.80"/>
<rect class="b" x="512.65" y="292.20" width="5.10" height="3.00" fill="#ff0000"/>
<path class="m" d="M512.65 294.50H517.75"/>
<ellipse class="o" cx="515.20" cy="278.80" rx="1.14" ry="1.32"/>
<ellipse class="o" cx="515.20" cy="284.20" rx="1.14" ry="1.32"/>
<ellipse class="o" cx="515.20" cy="285.23" rx="1.14" ry="1.32"/>
<ellipse class="o" cx="515.20" cy="286.25" rx="1.14" ry="1.32"/>
<ellipse class="o" cx="515.20" cy="287.27" rx="1.14" ry="1.32"/>
<ellipse class="o" cx="515.20" cy="288.30" rx="1.14" ry="1.32"/>
<path class="w" d="M527.50 286.20V273.30"/>
<path class="c" d="M525.90 273.30H529.10"/>
<path class="c" d="M525.90 295.20H529.10"/>
<rect class="b" x="524.95" y="286.20" width="5.10" height="9.00" fill="#00ff00"/>
<path class="m" d="M524.95 290.80H530.05"/>
<ellipse class="o" cx="527.50" cy="265.20" rx="1.14" ry="1.32"/>
<ellipse class="o" cx="527.50" cy="265.80" rx="1.14" ry="1.32"/>
<ellipse class="o" cx="527.50" cy="270.00" rx="1.14" ry="1.32"/>
<ellipse class="o" cx="527.50" cy="271.70" rx="1.14" ry="1.32"/>
<path class="w" d="M533.90 286.20V275.80"/>
<path class="c" d="M532.30 275.80H535.50"/>
<path class="c" d="M532.30 295.20H535.50"/>
<rect class="b" x="531.35" y="286.20" width="5.10" height="9.00" fill="#bebebe"/>
<path class="m" d="M531.35 291.50H536.45"/>
<ellipse class="o" cx="533.90" cy="270.00" rx="1.14" ry="1.32"/>
<ellipse class="o" cx="533.90" cy="270.83" rx="1.14" ry="1.32"/>
<ellipse class="o" cx="533.90" cy="271.67" rx="1.14" ry="1.32"/>
<ellipse class="o" cx="533.90" cy="272.50" rx="1.14" ry="1.32"/>
<path class="w" d="M540.30 289.20V283.30"/>
<path class="c" d="M538.70 283.30H541.90"/>
<path class="c" d="M538.70 295.20H541.90"/>
<rect class="b" x="537.75" y="289.20" width="5.10" height="6.00" fill="#ff0000"/>
<path class="m" d="M537.75 294.50H542.85"/>
<ellipse class="o" cx="540.30" cy="265.00" rx="1.14" ry="1.32"/>
<ellipse class="o" cx="540.30" cy="275.30" rx="1.14" ry="1.32"/>
<ellipse class="o" cx="540.30" cy="278.30" rx="1.14" ry="1.32"/>
<ellipse class="o" cx="540.30" cy="280.00" rx="1.14" ry="1.32"/>
<path class="w" d="M552.70 287.50V277.80"/>
<path class="c" d="M551.10 277.80H554.30"/>
<path class="c" d="M551.10 295.20H554.30"/>
<rect class="b" x="550.15" y="287.50" width="5.10" height="7.70" fill="#00ff00"/>
<path class="m" d="M550.15 291.80H555.25"/>
<ellipse class="o" cx="552.70" cy="258.70" rx="1.14" ry="1.32"/>
<ellipse class="o" cx="552.70" cy="265.50" rx="1.14" ry="1.32"/>
<ellipse class="o" cx="552.70" cy="266.10" rx="1.14" ry="1.32"/>
<path class="w" d="M559.00 290.20V285.00"/>
<path class="c" d="M557.40 285.00H560.60"/>
<path class="c" d="M557.40 295.20H560.60"/>
<rect class="b" x="556.45" y="290.20" width="5.10" height="5.00" fill="#bebebe"/>
<path class="m" d="M556.45 294.50H561.55"/>
<ellipse class="o" cx="559.00" cy="276.70" rx="1.14" ry="1.32"/>
<ellipse class="o" cx="559.00" cy="279.20" rx="1.14" ry="1.32"/>
<ellipse class="o" cx="559.00" cy="280.15" rx="1.14" ry="1.32"/>
<ellipse class="o" cx="559.00" cy="281.10" rx="1.14" ry="1.32"/>
<ellipse class="o" cx="559.00" cy="282.05" rx="1.14" ry="1.32"/>
<ellipse class="o" cx="559.00" cy="283.00" rx="1.14" ry="1.32"/>
<path class="w" d="M565.30 291.20V287.50"/>
<path class="c" d="M563.70 287.50H566.90"/>
<path class="c" d="M563.70 295.20H566.90"/>
<rect class="b" x="562.75" y="291.20" width="5.10" height="4.00" fill="#ff0000"/>
<path class="m" d="M562.75 294.50H567.85"/>
<ellipse class="o" cx="565.30" cy="269.50" rx="1.14" ry="1.32"/>
<ellipse class="o" cx="565.30" cy="276.70" rx="1.14" ry="1.32"/>
<ellipse class="o" cx="565.30" cy="278.80" rx="1.14" ry="1.32"/>
<ellipse class="o" cx="565.30" cy="280.50" rx="1.14" ry="1.32"/>
<ellipse class="o" cx="565.30" cy="281.10" rx="1.14" ry="1.32"/>
<ellipse class="o" cx="565.30" cy="285.00" rx="1.14" ry="1.32"/>
<path class="w" d="M577.40 293.20V292.50"/>
<path class="c" d="M575.80 292.50H579.00"/>
<path class="c" d="M575.80 295.20H579.00"/>
<rect class="b" x="574.85" y="293.20" width="5.10" height="2.00" fill="#00ff00"/>
<path class="m" d="M574.85 294.60H579.95"/>
<ellipse class="o" cx="577.40" cy="280.30" rx="1.14" ry="1.32"/>
<ellipse class="o" cx="577.40" cy="285.00" rx="1.14" ry="1.32"/>
<ellipse class="o" cx="577.40" cy="285.97" rx="1.14" ry="1.32"/>
<ellipse class="o" cx="577.40" cy="286.93" rx="1.14" ry="1.32"/>
<ellipse class="o" cx="577.40" cy="287.90" rx="1.14" ry="1.32"/>
<ellipse class="o" cx="577.40" cy="288.87" rx="1.14" ry="1.32"/>
<ellipse class="o" cx="577.40" cy="289.83" rx="1.14" ry="1.32"/>
<ellipse class="o" cx="577.40" cy="290.80" rx="1.14" ry="1.32"/>
<path class="w" d="M583.90 290.00V283.30"/>
<path class="c" d="M582.30 283.30H585.50"/>
<path class="c" d="M582.30 295.20H585.50"/>
<rect class="b" x="581.35" y="290.00" width="5.10" height="5.20" fill="#bebebe"/>
<path class="m" d="M581.35 293.30H586.45"/>
<ellipse class="o" cx="583.90" cy="263.00" rx="1.14" ry="1.32"/>
<ellipse class="o" cx="583.90" cy="270.80" rx="1.14" ry="1.32"/>
<ellipse class="o" cx="583.90" cy="279.20" rx="1.14" ry="1.32"/>
<ellipse class="o" cx="583.90" cy="279.80" rx="1.14" ry="1.32"/>
<path class="w" d="M590.30 277.50V251.30"/>
<path class="c" d="M588.70 251.30H591.90"/>
<path class="c" d="M588.70 295.20H591.90"/>
<rect class="b" x="587.75" y="277.50" width="5.10" height="17.70" fill="#ff0000"/>
<path class="m" d="M587.75 289.70H592.85"/>
<ellipse class="o" cx="590.30" cy="248.30" rx="1.14" ry="1.32"/>
<path class="w" d="M602.70 290.80V289.00"/>
<path class="c" d="M601.10 289.00H604.30"/>
<path class="c" d="M601.10 295.20H604.30"/>
<rect class="b" x="600.15" y="290.80" width="5.10" height="4.40" fill="#00ff00"/>
<path class="m" d="M600.15 293.70H605.25"/>
<ellipse class="o" cx="602.70" cy="249.20" rx="1.14" ry="1.32"/>
<ellipse class="o" cx="602.70" cy="266.40" rx="1.14" ry="1.32"/>
<ellipse class="o" cx="602.70" cy="267.00" rx="1.14" ry="1.32"/>
<ellipse class="o" cx="602.70" cy="271.20" rx="1.14" ry="1.32"/>
<ellipse class="o" cx="602.70" cy="273.30" rx="1.14" ry="1.32"/>
<ellipse class="o" cx="602.70" cy="274.55" rx="1.14" ry="1.32"/>
<ellipse class="o" cx="602.70" cy="275.80" rx="1.14" ry="1.32"/>
<ellipse class="o" cx="602.70" cy="277.05" rx="1.14" ry="1.32"/>
<ellipse class="o" cx="602.70" cy="278.30" rx="1.14" ry="1.32"/>
<ellipse class="o" cx="602.70" cy="279.55" rx="1.14" ry="1.32"/>
<ellipse class="o" cx="602.70" cy="280.80" rx="1.14" ry="1.32"/>
<ellipse class="o" cx="602.70" cy="282.05" rx="1.14" ry="1.32"/>
<ellipse class="o" cx="602.70" cy="283.30" rx="1.14" ry="1.32"/>
<ellipse class="o" cx="602.70" cy="284.55" rx="1.14" ry="1.32"/>
<ellipse class="o" cx="602.70" cy="285.80" rx="1.14" ry="1.32"/>
<path class="w" d="M609.00 289.20V284.20"/>
<path class="c" d="M607.40 284.20H610.60"/>
<path class="c" d="M607.40 295.20H610.60"/>
<rect class="b" x="606.45" y="289.20" width="5.10" height="6.00" fill="#bebebe"/>
<path class="m" d="M606.45 293.30H611.55"/>
<ellipse class="o" cx="609.00" cy="213.50" rx="1.14" ry="1.32"/>
<ellipse class="o" cx="609.00" cy="273.30" rx="1.14" ry="1.32"/>
<ellipse class="o" cx="609.00" cy="277.50" rx="1.14" ry="1.32"/>
<ellipse class="o" cx="609.00" cy="280.30" rx="1.14" ry="1.32"/>
<path class="w" d="M615.30 291.80V290.00"/>
<path class="c" d="M613.70 290.00H616.90"/>
<path class="c" d="M613.70 295.20H616.90"/>
<rect class="b" x="612.75" y="291.80" width="5.10" height="3.40" fill="#ff0000"/>
<path class="m" d="M612.75 294.20H617.85"/>
<ellipse class="o" cx="615.30" cy="268.30" rx="1.14" ry="1.32"/>
<ellipse class="o" cx="615.30" cy="277.20" rx="1.14" ry="1.32"/>
<ellipse class="o" cx="615.30" cy="282.50" rx="1.14" ry="1.32"/>
<ellipse class="o" cx="615.30" cy="283.55" rx="1.14" ry="1.32"/>
<ellipse class="o" cx="615.30" cy="284.60" rx="1.14" ry="1.32"/>
<ellipse class="o" cx="615.30" cy="285.65" rx="1.14" ry="1.32"/>
<ellipse class="o" cx="615.30" cy="286.70" rx="1.14" ry="1.32"/>
<path class="w" d="M627.80 290.00V285.80"/>
<path class="c" d="M626.20 285.80H629.40"/>
<path class="c" d="M626.20 295.20H629.40"/>
<rect class="b" x="625.25" y="290.00" width="5.10" height="5.20" fill="#00ff00"/>
<path class="m" d="M625.25 294.20H630.35"/>
<ellipse class="o" cx="627.80" cy="273.70" rx="1.14" ry="1.32"/>
<ellipse class="o" cx="627.80" cy="278.30" rx="1.14" ry="1.32"/>
<ellipse class="o" cx="627.80" cy="279.35" rx="1.14" ry="1.32"/>
<ellipse class="o" cx="627.80" cy="280.40" rx="1.14" ry="1.32"/>
<ellipse class="o" cx="627.80" cy="281.45" rx="1.14" ry="1.32"/>
<ellipse class="o" cx="627.80" cy="282.50" rx="1.14" ry="1.32"/>
<path class="w" d="M634.10 291.20V288.30"/>
<path class="c" d="M632.50 288.30H635.70"/>
<path class="c" d="M632.50 295.20H635.70"/>
<rect class="b" x="631.55" y="291.20" width="5.10" height="4.00" fill="#bebebe"/>
<path class="m" d="M631.55 294.50H636.65"/>
<ellipse class="o" cx="634.10" cy="275.50" rx="1.14" ry="1.32"/>
<ellipse class="o" cx="634.10" cy="277.50" rx="1.14" ry="1.32"/>
<ellipse class="o" cx="634.10" cy="279.20" rx="1.14" ry="1.32"/>
<ellipse class="o" cx="634.10" cy="280.36" rx="1.14" ry="1.32"/>
<ellipse class="o" cx="634.10" cy="281.52" rx="1.14" ry="1.32"/>
<ellipse class="o" cx="634.10" cy="282.68" rx="1.14" ry="1.32"/>
<ellipse class="o" cx="634.10" cy="283.84" rx="1.14" ry="1.32"/>
<ellipse class="o" cx="634.10" cy="285.00" rx="1.14" ry="1.32"/>
<path class="w" d="M640.50 291.80V288.70"/>
<path class="c" d="M638.90 288.70H642.10"/>
<path class="c" d="M638.90 295.20H642.10"/>
<rect class="b" x="637.95" y="291.80" width="5.10" height="3.40" fill="#ff0000"/>
<path class="m" d="M637.95 294.50H643.05"/>
<ellipse class="o" cx="640.50" cy="209.00" rx="1.14" ry="1.32"/>
<ellipse class="o" cx="640.50" cy="280.00" rx="1.14" ry="1.32"/>
<ellipse class="o" cx="640.50" cy="281.12" rx="1.14" ry="1.32"/>
<ellipse class="o" cx="640.50" cy="282.23" rx="1.14" ry="1.32"/>
<ellipse class="o" cx="640.50" cy="283.35" rx="1.14" ry="1.32"/>
<ellipse class="o" cx="640.50" cy="284.47" rx="1.14" ry="1.32"/>
<ellipse class="o" cx="640.50" cy="285.58" rx="1.14" ry="1.32"/>
<ellipse class="o" cx="640.50" cy="286.70" rx="1.14" ry="1.32"/>
<path class="w" d="M653.00 290.50V285.50"/>
<path class="c" d="M651.40 285.50H654.60"/>
<path class="c" d="M651.40 295.20H654.60"/>
<rect class="b" x="650.45" y="290.50" width="5.10" height="4.70" fill="#00ff00"/>
<path class="m" d="M650.45 293.20H655.55"/>
<ellipse class="o" cx="653.00" cy="270.20" rx="1.14" ry="1.32"/>
<ellipse class="o" cx="653.00" cy="270.80" rx="1.14" ry="1.32"/>
<ellipse class="o" cx="653.00" cy="280.30" rx="1.14" ry="1.32"/>
<ellipse class="o" cx="653.00" cy="283.00" rx="1.14" ry="1.32"/>
<path class="w" d="M659.30 292.80V290.50"/>
<path class="c" d="M657.70 290.50H660.90"/>
<path class="c" d="M657.70 295.20H660.90"/>
<rect class="b" x="656.75" y="292.80" width="5.10" height="2.40" fill="#bebebe"/>
<path class="m" d="M656.75 294.60H661.85"/>
<ellipse class="o" cx="659.30" cy="276.40" rx="1.14" ry="1.32"/>
<ellipse class="o" cx="659.30" cy="277.00" rx="1.14" ry="1.32"/>
<ellipse class="o" cx="659.30" cy="280.80" rx="1.14" ry="1.32"/>
<ellipse class="o" cx="659.30" cy="285.80" rx="1.14" ry="1.32"/>
<ellipse class="o" cx="659.30" cy="288.30" rx="1.14" ry="1.32"/>
<ellipse class="o" cx="659.30" cy="290.00" rx="1.14" ry="1.32"/>
<path class="w" d="M665.60 293.20V292.00"/>
<path class="c" d="M664.00 292.00H667.20"/>
<path class="c" d="M664.00 295.20H667.20"/>
<rect class="b" x="663.05" y="293.20" width="5.10" height="2.00" fill="#ff0000"/>
<path class="m" d="M663.05 294.70H668.15"/>
<ellipse class="o" cx="665.60" cy="273.30" rx="1.14" ry="1.32"/>
<ellipse class="o" cx="665.60" cy="282.50" rx="1.14" ry="1.32"/>
<ellipse class="o" cx="665.60" cy="285.00" rx="1.14" ry="1.32"/>
<ellipse class="o" cx="665.60" cy="287.50" rx="1.14" ry="1.32"/>
<ellipse class="o" cx="665.60" cy="289.20" rx="1.14" ry="1.32"/>
<ellipse class="o" cx="665.60" cy="290.80" rx="1.14" ry="1.32"/>
<text class="xl" font-size="6.9" transform="translate(294.10,311.30) rotate(-40) scale(0.915,1)" text-anchor="end">Pseudomonas</text>
<text class="xl" font-size="6.9" transform="translate(319.30,311.30) rotate(-40) scale(0.915,1)" text-anchor="end">Streptococcus</text>
<text class="xl" font-size="6.9" transform="translate(344.30,311.30) rotate(-40) scale(0.915,1)" text-anchor="end">Bacteroides</text>
<text class="xl" font-size="6.9" transform="translate(369.40,311.30) rotate(-40) scale(0.915,1)" text-anchor="end">Staphylococcus</text>
<text class="xl" font-size="6.9" transform="translate(394.40,311.30) rotate(-40) scale(0.915,1)" text-anchor="end">Acinetobacter</text>
<text class="xl" font-size="6.9" transform="translate(419.50,311.30) rotate(-40) scale(0.915,1)" text-anchor="end">Bifidobacterium</text>
<text class="xl" font-size="6.9" transform="translate(444.50,311.30) rotate(-40) scale(0.915,1)" text-anchor="end">Faecalibacterium</text>
<text class="xl" font-size="6.9" transform="translate(469.80,311.30) rotate(-40) scale(0.915,1)" text-anchor="end">Micrococcus</text>
<text class="xl" font-size="6.9" transform="translate(494.70,311.30) rotate(-40) scale(0.915,1)" text-anchor="end">Enhydrobacter</text>
<text class="xl" font-size="6.9" transform="translate(519.90,311.30) rotate(-40) scale(0.915,1)" text-anchor="end">Sphingomonas</text>
<text class="xl" font-size="6.9" transform="translate(545.00,311.30) rotate(-40) scale(0.915,1)" text-anchor="end">Enterococcus</text>
<text class="xl" font-size="6.9" transform="translate(570.10,311.30) rotate(-40) scale(0.915,1)" text-anchor="end">Akkermansia</text>
<text class="xl" font-size="6.9" transform="translate(595.00,311.30) rotate(-40) scale(0.915,1)" text-anchor="end">Trabulsiella</text>
<text class="xl" font-size="6.9" transform="translate(620.10,311.30) rotate(-40) scale(0.915,1)" text-anchor="end">Corynebacterium</text>
<text class="xl" font-size="6.9" transform="translate(645.20,311.30) rotate(-40) scale(0.915,1)" text-anchor="end">Methanobrevibacter</text>
<text class="xl" font-size="6.9" transform="translate(670.40,311.30) rotate(-40) scale(0.915,1)" text-anchor="end">Prevotella</text>
<circle cx="638.2" cy="30.35" r="1.75" fill="#00ff00"/>
<text class="lg" transform="translate(646.3,33.4) scale(0.875,1)">control</text>
<circle cx="638.2" cy="42.3" r="1.75" fill="#bebebe"/>
<text class="lg" transform="translate(646.3,45.6) scale(0.875,1)">LC</text>
<circle cx="638.2" cy="54.3" r="1.75" fill="#ff0000"/>
<text class="lg" transform="translate(646.3,57.1) scale(0.875,1)">HCC</text>
</svg>
</body></html>
